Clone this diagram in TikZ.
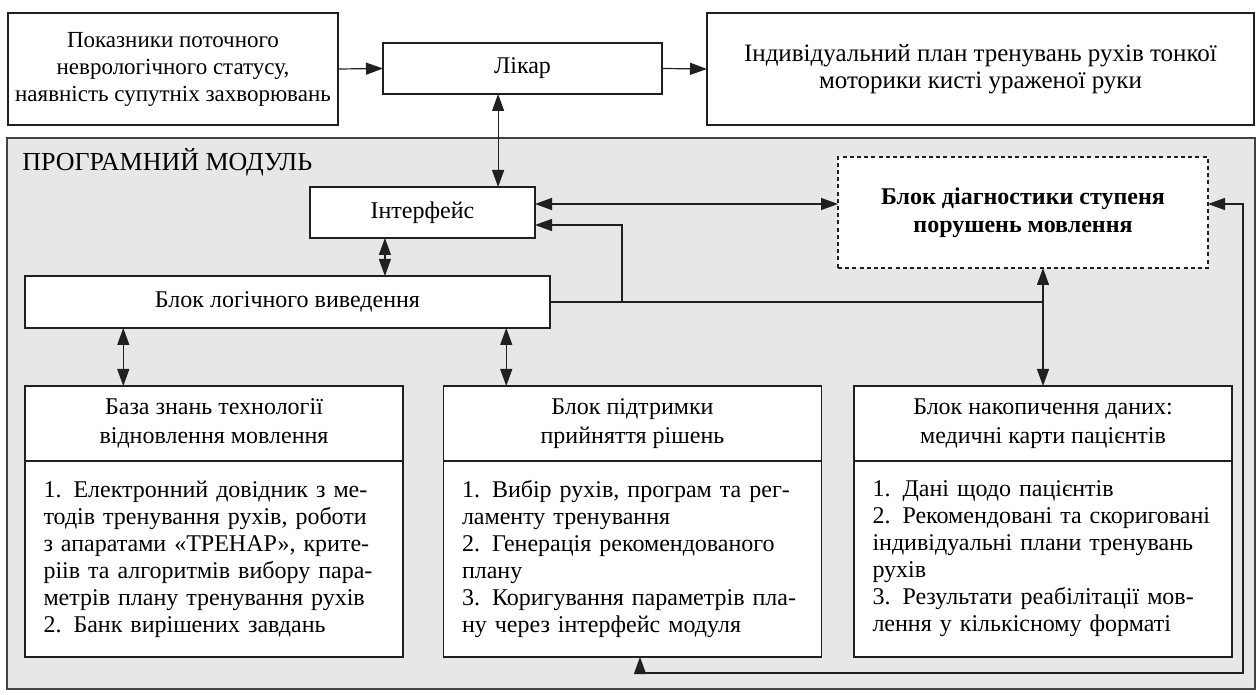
\documentclass[tikz,border=0pt]{standalone}
\usepackage{fontspec}
\setmainfont{Liberation Serif}
\usepackage{xcolor}
\usepackage{tikz}
\usetikzlibrary{positioning, arrows.meta, calc}

\definecolor{modgray}{HTML}{E6E7E8}
\definecolor{ink}{HTML}{231F20}
\newcommand{\jl}[1]{\makebox[170.5pt][s]{#1}}

\begin{document}
\begin{tikzpicture}[x=0.5pt, y=-0.5pt,
        font=\fontsize{12}{13.5}\selectfont,
        box/.style={draw=ink, line width=0.75pt, fill=white, align=center, inner sep=0pt, outer sep=0pt},
        dbox/.style={box, dash pattern=on 2pt off 1.6pt, font=\fontsize{12}{14}\selectfont\bfseries},
        head/.style={box, minimum width=189pt, minimum height=37.5pt, font=\fontsize{12}{14.5}\selectfont},
        lst/.style={box, minimum width=189pt, minimum height=98pt, text width=170.5pt, align=left},
        arr/.style={-{Triangle[length=8.5pt,width=6pt]}, line width=0.6pt, draw=ink},
        dbl/.style={{Triangle[length=8.5pt,width=6pt]}-{Triangle[length=8.5pt,width=6pt]}, line width=0.6pt, draw=ink},
        ln/.style={line width=0.6pt, draw=ink}
    ]
    \useasboundingbox (0,0) rectangle (1260,695);

    % Top row
    \node[box, minimum width=165pt, minimum height=56pt, font=\fontsize{11.5}{13.5}\selectfont] (status) at (173,69) {Показники поточного\\неврологічного статусу,\\наявність супутніх захворювань};
    \node[box, minimum width=139.5pt, minimum height=25.5pt] (likar) at (522.5,68.5) {Лікар};
    \node[box, minimum width=273.5pt, minimum height=56pt, font=\fontsize{12.5}{13.5}\selectfont] (plan) at (980.5,69) {Індивідуальний план тренувань рухів тонкої\\моторики кисті ураженої руки};

    \draw[arr] (status.east) -- (likar.west);
    \draw[arr] (likar.east) -- (plan.west);

    % Program module
    \node[draw=ink!85, line width=0.8pt, fill=modgray, minimum width=624pt, minimum height=275.5pt, inner sep=0pt] (module) at (631,413.5) {};
    \node[anchor=west, inner sep=0pt, font=\fontsize{13}{14}\selectfont] (modlabel) at (22,162) {ПРОГРАМНИЙ МОДУЛЬ};

    \node[box, minimum width=112.5pt, minimum height=25.5pt] (iface) at (422.5,212.5) {Інтерфейс};
    \node[dbox, minimum width=185pt, minimum height=55.5pt] (diag) at (1023,212.5) {Блок діагностики ступеня\\порушень мовлення};
    \node[box, minimum width=262.5pt, minimum height=26pt] (logic) at (287.5,302) {Блок логічного виведення};

    % Bottom blocks
    \node[head] (kbh) at (214,423.5) {База знань технології\\відновлення мовлення};
    \node[lst, below=0pt of kbh] (kbl) {\jl{1. Електронний довідник з ме-}\\
        \jl{тодів тренування рухів, роботи}\\
        \jl{з апаратами «ТРЕНАР», крите-}\\
        \jl{ріів та алгоритмів вибору пара-}\\
        \jl{метрів плану тренування рухів}\\
        2. Банк вирішених завдань};

    \node[head] (dssh) at (632.5,423.5) {Блок підтримки\\прийняття рішень};
    \node[lst, below=0pt of dssh] (dssl) {\jl{1. Вибір рухів, програм та рег-}\\
        ламенту тренування\\
        \jl{2. Генерація рекомендованого}\\
        плану\\
        \jl{3. Коригування параметрів пла-}\\
        ну через інтерфейс модуля};

    \node[head] (acch) at (1043,423.5) {Блок накопичення даних:\\медичні карти пацієнтів};
    \node[lst, below=0pt of acch] (accl) {1. Дані щодо пацієнтів\\
        \jl{2. Рекомендовані та скориговані}\\
        \jl{індивідуальні плани тренувань}\\
        рухів\\
        \jl{3. Результати реабілітації мов-}\\
        лення у кількісному форматі};

    % Connectors
    \coordinate (lk) at ($(iface.north west)!0.836!(iface.north east)$);
    \draw[dbl] (lk |- likar.south) -- (lk);
    \coordinate (il) at ($(iface.south west)!0.333!(iface.south east)$);
    \draw[dbl] (il) -- (il |- logic.north);
    \draw[dbl] ([yshift=4.25pt]iface.east) -- ([yshift=4.25pt]iface.east -| diag.west);

    \coordinate (lkb) at ($(kbh.north west)!0.26!(kbh.north east)$);
    \draw[dbl] (lkb |- logic.south) -- (lkb);
    \coordinate (lds) at ($(dssh.north west)!0.166!(dssh.north east)$);
    \draw[dbl] (lds |- logic.south) -- (lds);

    \draw[ln] (logic.east) -- (logic.east -| acch.north);
    \coordinate (br) at ($(logic.east)!0.146!(logic.east -| acch.north)$);
    \draw[arr] (br) |- ([yshift=-6.25pt]iface.east);
    \draw[dbl] (acch.north) -- (acch.north |- diag.south);

    % Feedback loop
    \coordinate (fb) at (1243,673);
    \draw[dbl] ([xshift=3.75pt]dssl.south) |- (fb) |- ([yshift=4.25pt]diag.east);

\end{tikzpicture}
\end{document}
